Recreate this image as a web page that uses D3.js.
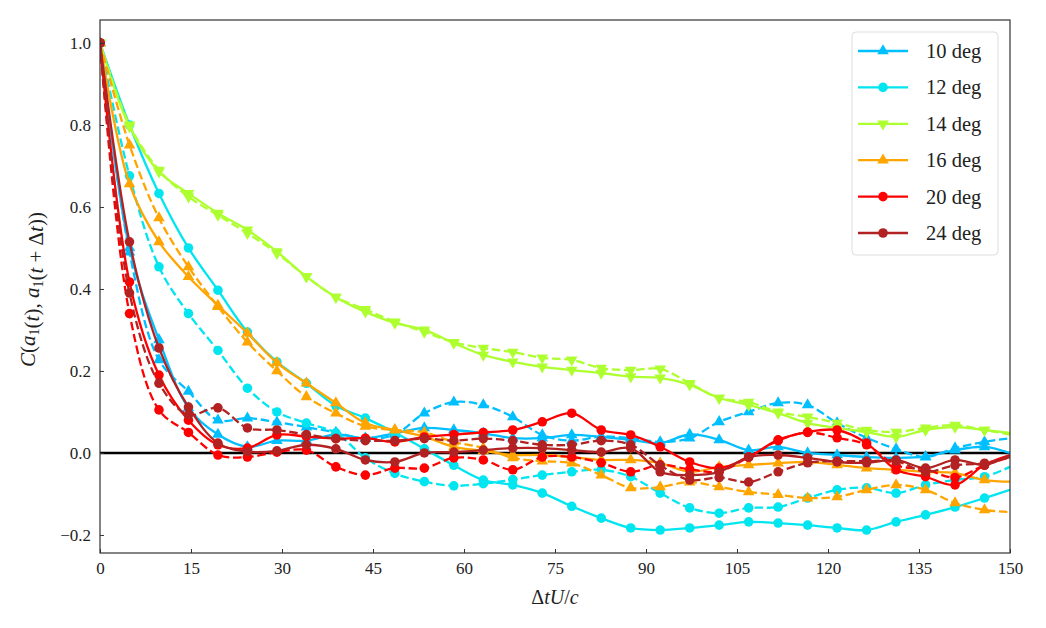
<!DOCTYPE html>
<html>
<head>
<meta charset="utf-8">
<script src="https://cdn.jsdelivr.net/npm/d3@7"></script>
<style>
  body { margin: 0; background: #fff; }
  text { font-family: "Liberation Serif", "DejaVu Serif", serif; }
</style>
</head>
<body>
<div id="vis"></div>
<script>
// sample positions (markers on all but the last point)
const dtU = [0, 4.86, 9.72, 14.58, 19.44, 24.3, 29.16, 34.02, 38.88, 43.74, 48.6, 53.46, 58.32, 63.18, 68.04, 72.9,
  77.76, 82.62, 87.48, 92.34, 97.2, 102.06, 106.92, 111.78, 116.64, 121.5, 126.36, 131.22, 136.08, 140.94, 145.8, 150];

const angles = ["10 deg", "12 deg", "14 deg", "16 deg", "20 deg", "24 deg"];
const colors = ["#00bfff", "#00e5f0", "#adff2f", "#ffa500", "#ff0000", "#b22222"];
const markers = ["up", "circle", "down", "up", "circle", "circle"];

const solid10 = [1.0, 0.50, 0.276, 0.11, 0.045, 0.015, 0.03, 0.03, 0.045, 0.036, 0.048, 0.061, 0.056, 0.048, 0.036, 0.036,
  0.044, 0.039, 0.032, 0.024, 0.045, 0.032, 0.007, 0.015, 0.0, -0.005, -0.01, -0.012, -0.009, 0.007, 0.015, 0.0];
const dashed10 = [1.0, 0.49, 0.227, 0.15, 0.08, 0.085, 0.075, 0.063, 0.05, 0.035, 0.045, 0.097, 0.124, 0.117, 0.088, 0.044,
  0.03, 0.04, 0.036, 0.027, 0.036, 0.076, 0.10, 0.122, 0.117, 0.073, 0.037, 0.01, -0.01, 0.012, 0.027, 0.036];
const solid12 = [1.0, 0.80, 0.633, 0.50, 0.397, 0.295, 0.222, 0.17, 0.115, 0.085, 0.05, 0.01, -0.03, -0.066, -0.078, -0.098,
  -0.13, -0.159, -0.183, -0.188, -0.183, -0.176, -0.168, -0.171, -0.176, -0.183, -0.188, -0.168, -0.151, -0.132, -0.11, -0.09];
const dashed12 = [1.0, 0.676, 0.454, 0.34, 0.25, 0.158, 0.10, 0.073, 0.049, -0.012, -0.05, -0.07, -0.08, -0.075, -0.065, -0.054,
  -0.046, -0.041, -0.058, -0.098, -0.134, -0.147, -0.134, -0.132, -0.11, -0.09, -0.085, -0.098, -0.078, -0.066, -0.058, -0.034];
const solid14 = [1.0, 0.796, 0.686, 0.633, 0.585, 0.544, 0.491, 0.43, 0.38, 0.344, 0.317, 0.30, 0.268, 0.239, 0.222, 0.21,
  0.202, 0.195, 0.186, 0.183, 0.166, 0.134, 0.117, 0.097, 0.073, 0.061, 0.051, 0.039, 0.056, 0.063, 0.056, 0.049];
const dashed14 = [1.0, 0.80, 0.69, 0.625, 0.58, 0.536, 0.487, 0.43, 0.38, 0.35, 0.32, 0.295, 0.27, 0.256, 0.246, 0.232,
  0.227, 0.207, 0.202, 0.205, 0.17, 0.134, 0.124, 0.10, 0.088, 0.073, 0.056, 0.051, 0.061, 0.068, 0.056, 0.045];
const solid16 = [1.0, 0.656, 0.515, 0.43, 0.36, 0.292, 0.22, 0.17, 0.122, 0.073, 0.056, 0.04, 0.015, 0.005, -0.005, -0.005,
  -0.01, -0.017, -0.017, -0.025, -0.046, -0.034, -0.029, -0.025, -0.022, -0.029, -0.037, -0.041, -0.046, -0.049, -0.066, -0.07];
const dashed16 = [1.0, 0.751, 0.573, 0.454, 0.357, 0.27, 0.20, 0.137, 0.097, 0.065, 0.056, 0.05, 0.027, 0.012, -0.012, -0.02,
  -0.025, -0.054, -0.085, -0.083, -0.071, -0.083, -0.095, -0.102, -0.11, -0.107, -0.09, -0.078, -0.09, -0.122, -0.139, -0.144];
const solid20 = [1.0, 0.417, 0.19, 0.08, 0.02, 0.012, 0.044, 0.04, 0.035, 0.036, 0.027, 0.039, 0.045, 0.05, 0.056, 0.076,
  0.097, 0.056, 0.044, 0.015, -0.022, -0.037, -0.01, 0.032, 0.051, 0.056, 0.024, -0.041, -0.058, -0.078, -0.029, -0.005];
const dashed20 = [1.0, 0.34, 0.105, 0.05, -0.005, -0.01, 0.002, 0.007, -0.034, -0.054, -0.037, -0.037, -0.012, -0.017, -0.041, -0.01,
  -0.01, -0.024, -0.046, -0.029, -0.04, -0.045, -0.01, 0.03, 0.05, 0.037, 0.02, -0.03, -0.04, -0.06, -0.03, -0.01];
const solid24 = [1.0, 0.515, 0.256, 0.112, 0.024, 0.003, 0.005, 0.02, 0.01, -0.017, -0.022, 0.0, 0.002, 0.007, 0.012, 0.012,
  0.007, 0.002, 0.012, -0.046, -0.054, -0.046, -0.01, -0.005, -0.012, -0.022, -0.024, -0.017, -0.037, -0.017, -0.029, -0.005];
const dashed24 = [1.0, 0.39, 0.17, 0.093, 0.11, 0.061, 0.056, 0.045, 0.035, 0.03, 0.03, 0.035, 0.03, 0.035, 0.03, 0.02,
  0.02, 0.03, 0.02, -0.03, -0.066, -0.06, -0.071, -0.046, -0.024, -0.02, -0.02, -0.02, -0.046, -0.03, -0.025, -0.01];

const solids = [solid10, solid12, solid14, solid16, solid20, solid24];
const dasheds = [dashed10, dashed12, dashed14, dashed16, dashed20, dashed24];

const yTicks = [-0.2, 0.0, 0.2, 0.4, 0.6, 0.8, 1.0];
const xTicks = [0, 15, 30, 45, 60, 75, 90, 105, 120, 135, 150];

const width = 1046;
const height = 628;
const margin = ({top: 20, right: 36, bottom: 75, left: 100});

const svg = d3.create('svg')
    .attr('width', width)
    .attr('height', height);

const xScale = d3.scaleLinear()
    .domain([0, 150])
    .range([margin.left, width - margin.right]);

const yScale = d3.scaleLinear()
    .domain([-0.244, 1.056])
    .range([height - margin.bottom, margin.top]);

svg.append("clipPath")
  .attr("id", "plot-clip")
  .append("rect")
    .attr("x", margin.left)
    .attr("y", margin.top)
    .attr("width", width - margin.left - margin.right)
    .attr("height", height - margin.top - margin.bottom);

// zero line
svg.append('line')
    .attr('x1', xScale(0)).attr('x2', xScale(150))
    .attr('y1', yScale(0)).attr('y2', yScale(0))
    .attr('stroke', '#000')
    .attr('stroke-width', 2.4);

const line = d3.line()
    .x((d, i) => xScale(dtU[i]))
    .y(d => yScale(d))
    .curve(d3.curveCatmullRom.alpha(0.5));

const symbolPath = function (kind) {
    if (kind === 'circle') return d3.symbol(d3.symbolCircle, 72)();
    return d3.symbol(d3.symbolTriangle, 58)();
};

const plot = svg.append('g').attr('clip-path', 'url(#plot-clip)');

const drawSeries = function (values, color, kind, dashed) {
    const g = plot.append('g');
    g.append('path')
        .datum(values)
        .attr('d', line)
        .attr('fill', 'none')
        .attr('stroke', color)
        .attr('stroke-width', 2.3)
        .attr('stroke-dasharray', dashed ? '8.5,3.7' : null);
    g.selectAll('path.mk')
        .data(values.slice(0, values.length - 1))
        .join('path')
        .attr('class', 'mk')
        .attr('d', symbolPath(kind))
        .attr('transform', (d, i) => `translate(${xScale(dtU[i])},${yScale(d)})` + (kind === 'down' ? ' rotate(180)' : ''))
        .attr('fill', color);
};

angles.forEach((a, i) => {
    drawSeries(solids[i], colors[i], markers[i], false);
    drawSeries(dasheds[i], colors[i], markers[i], true);
});

// axes with inward ticks
const xAxis = svg.append('g')
    .attr('transform', `translate(0, ${height - margin.bottom})`)
    .call(d3.axisBottom(xScale).tickValues(xTicks).tickSize(-4).tickPadding(9).tickSizeOuter(0));
const yAxis = svg.append('g')
    .attr('transform', `translate(${margin.left}, 0)`)
    .call(d3.axisLeft(yScale).tickValues(yTicks).tickSize(-4).tickPadding(9).tickSizeOuter(0)
        .tickFormat(d => (d < 0 ? '\u2212' : '') + Math.abs(d).toFixed(1)));

[xAxis, yAxis].forEach(ax => {
    ax.selectAll('text').attr('font-size', 17).attr('fill', '#222')
        .attr('font-family', '"Liberation Serif", serif');
    ax.selectAll('line').attr('stroke', '#333');
    ax.select('.domain').remove();
});

// frame
svg.append('rect')
    .attr('x', margin.left).attr('y', margin.top)
    .attr('width', width - margin.left - margin.right)
    .attr('height', height - margin.top - margin.bottom)
    .attr('fill', 'none')
    .attr('stroke', '#333')
    .attr('stroke-width', 1.2);

// x label
const xl = svg.append('text')
    .attr('x', (margin.left + width - margin.right) / 2)
    .attr('y', 604)
    .attr('text-anchor', 'middle')
    .attr('font-size', 20)
    .attr('fill', '#222');
xl.append('tspan').text('\u0394');
xl.append('tspan').attr('font-style', 'italic').text('tU');
xl.append('tspan').text('/');
xl.append('tspan').attr('font-style', 'italic').text('c');

// y label
const yl = svg.append('text')
    .attr('transform', `translate(35, ${(margin.top + height - margin.bottom) / 2 + 3}) rotate(-90)`)
    .attr('text-anchor', 'middle')
    .attr('font-size', 21)
    .attr('fill', '#222');
const part = (t, it) => yl.append('tspan').attr('font-style', it ? 'italic' : null).text(t);
const sub = t => yl.append('tspan').attr('font-size', 14).attr('dy', 4).text(t);
const up = () => yl.append('tspan').attr('dy', -4).text('');
part('C', true); part('(', false); part('a', true); sub('1'); up(); part('(', false); part('t', true); part('), ', false);
part('a', true); sub('1'); up(); part('(', false); part('t', true); part(' + \u0394', false); part('t', true); part('))', false);

// legend
const legend = svg.append('g').attr('transform', 'translate(852, 32)');
legend.append('rect')
    .attr('width', 146).attr('height', 223)
    .attr('rx', 4)
    .attr('fill', '#fff').attr('fill-opacity', 0.85)
    .attr('stroke', '#ddd');
angles.forEach((a, i) => {
    const yy = 19 + i * 36.4;
    legend.append('line')
        .attr('x1', 6).attr('x2', 56).attr('y1', yy).attr('y2', yy)
        .attr('stroke', colors[i]).attr('stroke-width', 2.3);
    legend.append('path')
        .attr('d', symbolPath(markers[i]))
        .attr('transform', `translate(31,${yy})` + (markers[i] === 'down' ? ' rotate(180)' : ''))
        .attr('fill', colors[i]);
    legend.append('text')
        .attr('x', 74).attr('y', yy + 7)
        .attr('font-size', 20.5)
        .attr('fill', '#222')
        .text(a);
});

document.getElementById("vis").appendChild(svg.node());
</script>
</body>
</html>
